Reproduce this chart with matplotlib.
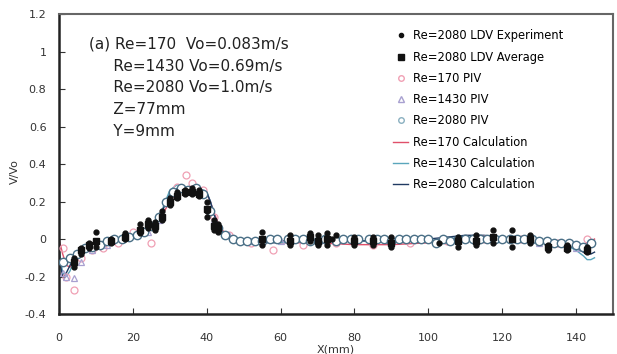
# V/Vo profile along X: LDV, PIV and calculation for three Re
import matplotlib
matplotlib.use("Agg")
import matplotlib.pyplot as plt
from matplotlib.lines import Line2D

# calculation curves
calc_x = [0, 1, 2, 3, 4, 5, 6, 8, 10, 13, 16, 19, 22, 24, 26, 28, 30, 32, 34, 36,
          38, 40, 41, 42, 43, 44, 46, 48, 50, 55, 60, 70, 80, 90, 100, 105, 110,
          115, 120, 125, 130, 135, 138, 140, 142, 143, 144, 145]
calc_170 = [0.0, -0.08, -0.14, -0.15, -0.12, -0.08, -0.05, -0.03, -0.02, -0.01, 0.0,
            0.01, 0.03, 0.05, 0.08, 0.13, 0.2, 0.25, 0.26, 0.26, 0.26, 0.24, 0.2,
            0.14, 0.09, 0.05, 0.02, 0.0, -0.01, -0.02, -0.02, -0.02, -0.03, -0.03,
            -0.02, -0.01, -0.01, 0.0, 0.0, 0.0, -0.01, -0.02, -0.02, -0.03, -0.03,
            -0.02, -0.01, 0.0]
calc_1430 = [-0.05, -0.18, -0.2, -0.17, -0.12, -0.08, -0.05, -0.03, -0.02, -0.01, 0.0,
             0.01, 0.03, 0.05, 0.09, 0.16, 0.26, 0.29, 0.28, 0.27, 0.27, 0.25, 0.2,
             0.13, 0.08, 0.04, 0.01, -0.01, -0.02, -0.02, -0.02, -0.01, -0.01, -0.01,
             -0.01, 0.0, 0.01, 0.01, 0.0, -0.01, -0.02, -0.03, -0.04, -0.06, -0.09,
             -0.11, -0.11, -0.1]
calc_2080 = [-0.1, -0.2, -0.18, -0.14, -0.1, -0.07, -0.05, -0.03, -0.02, -0.01, 0.0,
             0.01, 0.03, 0.05, 0.09, 0.15, 0.24, 0.27, 0.27, 0.26, 0.26, 0.25, 0.2,
             0.13, 0.08, 0.04, 0.01, -0.01, -0.01, -0.02, -0.01, -0.01, -0.01, -0.01,
             0.0, 0.01, 0.02, 0.02, 0.01, 0.0, -0.01, -0.02, -0.03, -0.05, -0.07,
             -0.08, -0.08, -0.07]

# PIV
piv2080_x = [1, 3, 5, 7, 9, 11, 13, 15, 17, 19, 21, 23, 25, 27, 29, 31, 33, 35, 37, 39,
             41, 43, 45, 47, 49, 51, 53, 55, 57, 59, 62, 64, 66, 68, 70, 72, 75, 77, 79,
             81, 84, 86, 88, 90, 92, 94, 96, 98, 100, 102, 104, 106, 108, 110, 112, 114,
             116, 118, 120, 122, 124, 126, 128, 130, 132, 134, 136, 138, 140, 142, 144]
piv2080_y = [-0.12, -0.1, -0.08, -0.05, -0.04, -0.03, -0.01, 0.0, 0.0, 0.01, 0.02, 0.04,
             0.07, 0.12, 0.2, 0.25, 0.27, 0.26, 0.27, 0.24, 0.15, 0.06, 0.02, 0.0, -0.01,
             -0.01, -0.01, -0.01, 0.0, 0.0, 0.0, 0.0, 0.0, -0.01, -0.01, 0.0, -0.01, 0.0,
             0.0, 0.0, 0.0, 0.0, 0.0, -0.01, 0.0, 0.0, 0.0, 0.0, 0.0, -0.02, 0.0, -0.01,
             0.0, 0.0, 0.0, 0.0, 0.0, 0.0, 0.0, 0.0, 0.0, 0.0, 0.0, -0.01, -0.01, -0.02,
             -0.02, -0.02, -0.03, -0.04, -0.02]
piv170_x = [1, 2, 4, 6, 9, 12, 16, 20, 25, 29, 32, 34.5, 36, 39, 42, 46, 52, 58, 66,
            75, 85, 95, 105, 115, 125, 135, 143]
piv170_y = [-0.05, -0.2, -0.27, -0.1, -0.06, -0.05, -0.02, 0.04, -0.02, 0.2, 0.28,
            0.34, 0.3, 0.26, 0.12, 0.02, -0.02, -0.06, -0.03, -0.02, -0.03, -0.02,
            -0.01, 0.0, 0.0, -0.02, 0.0]
piv1430_x = [1, 2, 4, 6, 9, 13, 17, 21, 24, 27, 30, 33, 36, 39, 42, 46, 52, 60, 70, 80,
             90, 100, 110, 120, 130, 140]
piv1430_y = [-0.18, -0.2, -0.21, -0.12, -0.06, -0.03, 0.0, 0.02, 0.04, 0.1, 0.22, 0.28,
             0.27, 0.25, 0.1, 0.02, -0.01, -0.01, -0.01, 0.0, 0.0, 0.0, 0.0, 0.0, -0.02,
             -0.05]

# LDV
ldv_x = [4, 4, 4, 6, 6, 8, 8, 10, 10, 10, 14, 14, 18, 18, 22, 22, 22, 24, 24, 26, 26,
         28, 28, 30, 30, 32, 32, 34, 34, 36, 36, 38, 38, 40, 40, 40, 42, 42, 43, 43,
         55, 55, 62.5, 62.5, 68, 68, 70, 70, 72.5, 72.5, 74, 75, 80, 80, 85, 85, 90,
         90, 103, 108, 108, 113, 113, 117.5, 117.5, 122.7, 122.7, 127.5, 127.5,
         132.4, 132.4, 137.6, 137.6, 143, 143]
ldv_y = [-0.12, -0.15, -0.1, -0.08, -0.05, -0.02, -0.05, 0.04, -0.02, -0.04, 0.0, -0.02,
         0.03, 0.0, 0.08, 0.05, 0.03, 0.1, 0.06, 0.09, 0.05, 0.15, 0.1, 0.22, 0.18, 0.25,
         0.22, 0.26, 0.24, 0.27, 0.24, 0.26, 0.23, 0.2, 0.15, 0.12, 0.1, 0.05, 0.08, 0.04,
         0.04, -0.03, 0.02, -0.03, 0.03, -0.01, 0.02, -0.03, 0.03, -0.03, 0.0, 0.02,
         0.01, -0.03, 0.01, -0.03, 0.01, -0.04, -0.02, 0.01, -0.04, 0.02, -0.03, 0.05,
         -0.02, 0.05, -0.04, 0.02, -0.02, -0.03, -0.06, -0.03, -0.06, -0.04, -0.07]
ldv_avg_x = [4, 6, 8, 10, 14, 18, 22, 24, 26, 28, 30, 32, 34, 36, 38, 40, 42, 43, 55,
             62.5, 68, 70, 72.5, 80, 85, 90, 108, 113, 117.5, 122.7, 127.5, 132.4,
             137.6, 143]
ldv_avg_y = [-0.12, -0.06, -0.03, -0.01, -0.01, 0.01, 0.05, 0.08, 0.07, 0.12, 0.2, 0.23,
             0.25, 0.25, 0.24, 0.16, 0.07, 0.06, 0.0, -0.01, 0.01, -0.01, 0.0, -0.01,
             -0.01, -0.02, -0.01, -0.01, 0.01, 0.0, 0.0, -0.04, -0.05, -0.06]

c170, c1430, c2080 = "#e0506a", "#5aa6bc", "#203a62"

fig = plt.figure(figsize=(6.17, 3.54), dpi=100)
ax = fig.add_axes([0.0956, 0.113, 0.8979, 0.847])

ax.plot(calc_x, calc_170, color=c170, lw=1.0, zorder=2)
ax.plot(calc_x, calc_1430, color=c1430, lw=1.0, zorder=2)
ax.plot(calc_x, calc_2080, color=c2080, lw=1.0, zorder=2)
ax.plot(piv170_x, piv170_y, "o", mfc="none", mec="#f0a0b4", ms=5, mew=0.9, zorder=3)
ax.plot(piv1430_x, piv1430_y, "^", mfc="none", mec="#a8a0d0", ms=5, mew=0.9, zorder=3)
ax.plot(piv2080_x, piv2080_y, "o", mfc="white", mec="#4a6f86", ms=6, mew=1.0, zorder=3)
ax.plot(ldv_x, ldv_y, "o", color="#111111", ms=3.5, zorder=4)
ax.plot(ldv_avg_x, ldv_avg_y, "s", color="#111111", ms=4.5, zorder=4)

ax.set_xlim(0, 150)
ax.set_ylim(-0.4, 1.2)
ax.set_xticks([0, 20, 40, 60, 80, 100, 120, 140])
ax.set_yticks([-0.4, -0.2, 0, 0.2, 0.4, 0.6, 0.8, 1, 1.2])
ax.set_yticklabels(["-0.4", "-0.2", "0", "0.2", "0.4", "0.6", "0.8", "1", "1.2"])
ax.tick_params(direction="in", length=4, labelsize=8, colors="#333333")
ax.tick_params(axis="y", pad=9)
ax.tick_params(axis="x", pad=14)
for s in ["left", "bottom"]:
    ax.spines[s].set_linewidth(1.8)
    ax.spines[s].set_color("#222222")
for s in ["top", "right"]:
    ax.spines[s].set_linewidth(1.5)
    ax.spines[s].set_color("#666666")

ax.set_xlabel("X(mm)", fontsize=8, color="#333333", labelpad=1)
fig.text(15 / 617, 1 - 172 / 354, "V/Vo", rotation=90, fontsize=8, color="#333333",
         ha="center", va="center")

info = ["(a) Re=170  Vo=0.083m/s", "     Re=1430 Vo=0.69m/s", "     Re=2080 Vo=1.0m/s",
        "     Z=77mm", "     Y=9mm"]
for i, line in enumerate(info):
    ax.text(0.054, 0.9 - i * 0.073, line, transform=ax.transAxes, fontsize=11,
            color="#222222", va="center")

handles = [
    Line2D([], [], ls="none", marker="o", color="#111111", ms=3),
    Line2D([], [], ls="none", marker="s", color="#111111", ms=5),
    Line2D([], [], ls="none", marker="o", mfc="none", mec="#f0a0b4", ms=4),
    Line2D([], [], ls="none", marker="^", mfc="none", mec="#a8a0d0", ms=4),
    Line2D([], [], ls="none", marker="o", mfc="none", mec="#8ab0c0", ms=4),
    Line2D([], [], color=c170, lw=1.0),
    Line2D([], [], color=c1430, lw=1.0),
    Line2D([], [], color=c2080, lw=1.0),
]
labels = ["Re=2080 LDV Experiment", "Re=2080 LDV Average", "Re=170 PIV", "Re=1430 PIV",
          "Re=2080 PIV", "Re=170 Calculation", "Re=1430 Calculation",
          "Re=2080 Calculation"]
ax.legend(handles, labels, loc="upper left", bbox_to_anchor=(0.595, 0.965), frameon=False,
          fontsize=8.3, handlelength=1.3, handletextpad=0.4, labelspacing=0.72,
          borderaxespad=0)

fig.savefig("out.png", dpi=100)
